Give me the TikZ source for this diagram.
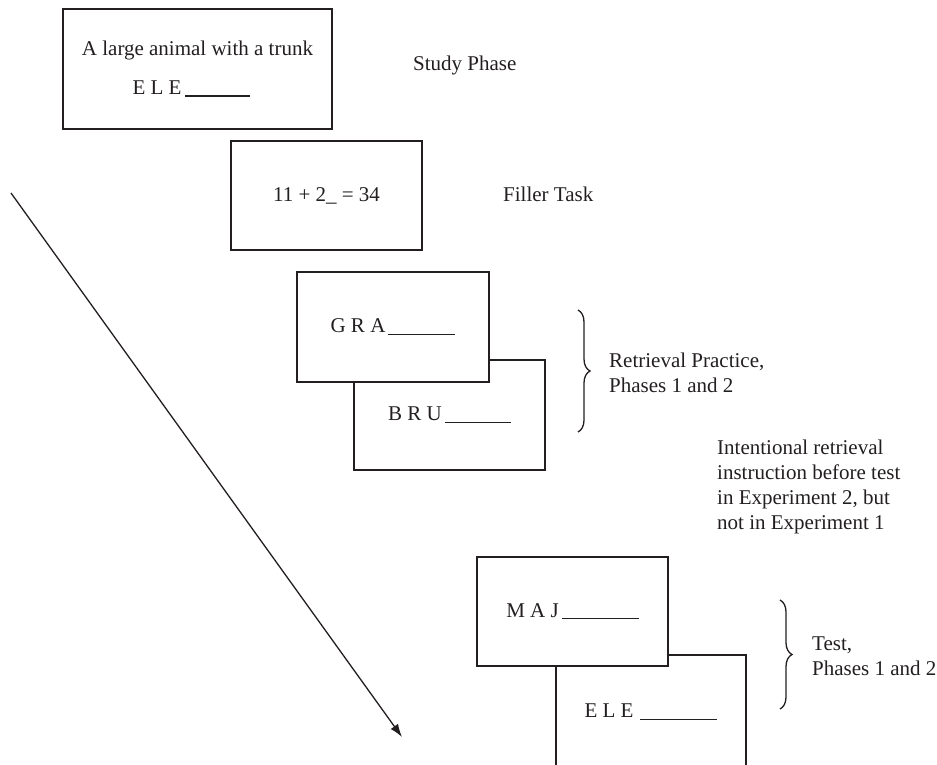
\documentclass[tikz,border=0pt]{standalone}
\usepackage{fontspec}
\setmainfont{Liberation Serif}
\usetikzlibrary{arrows.meta,decorations.pathreplacing}
\definecolor{ink}{HTML}{231F20}
\tikzset{
  card/.style={draw=ink, line width=1.4pt, fill=white, inner sep=0pt, text=ink,
    font=\fontsize{21}{25}\selectfont, align=center},
  label/.style={inner sep=0pt, text=ink, font=\fontsize{21}{25}\selectfont, align=left, anchor=base west},
  bracket/.style={draw=ink, line width=1.3pt, decorate, decoration={brace, amplitude=12pt}},
  flow/.style={draw=ink, line width=1.3pt, -{Latex[length=13pt,width=9pt]}}
}
\newcommand{\blank}[1]{\rule[-2pt]{#1}{1.3pt}}
\begin{document}
\begin{tikzpicture}[x=1pt,y=-1pt]
\useasboundingbox (0,0) rectangle (937,764);
% study phase
\node[card, minimum width=269pt, minimum height=120pt] (study) at (197.5,69)
  {A large animal with a trunk\\[14pt]E L E\hspace{4pt}\blank{65pt}\kern12pt};
\node[label] (studyl) at (413,70) {Study Phase};
% filler
\node[card, minimum width=191pt, minimum height=109pt] (filler) at (326.5,195.5) {11 + 2\_ = 34};
\node[label] (fillerl) at (503,201) {Filler Task};
% retrieval practice
\node[card, minimum width=191pt, minimum height=110pt] (bru) at (449.5,415) {B R U\hspace{3pt}\blank{66pt}};
\node[card, minimum width=192pt, minimum height=110pt] (gra) at (393,327) {G R A\hspace{3pt}\blank{67pt}};
\coordinate (rpt) at (578,310);
\coordinate (rpb) at (578,432);
\draw[bracket] (rpt) -- (rpb);
\node[label] (rpl) at (609,392) {Retrieval Practice,\\Phases 1 and 2};
% instruction
\node[label] (instr) at (717,529) {Intentional retrieval\\instruction before test\\in Experiment 2, but\\not in Experiment 1};
% test
\node[card, minimum width=190pt, minimum height=114pt] (ele) at (651,712) {E L E\hspace{7pt}\blank{77pt}};
\node[card, minimum width=191pt, minimum height=109pt] (maj) at (572.5,611.5) {M A J\hspace{3pt}\blank{77pt}};
\coordinate (tt) at (780,600);
\coordinate (tb) at (780,709);
\draw[bracket] (tt) -- (tb);
\node[label] (testl) at (812,675) {Test,\\Phases 1 and 2};
% time arrow
\coordinate (as) at (11,193);
\coordinate (ae) at (402,737);
\draw[flow] (as) -- (ae);
\end{tikzpicture}
\end{document}
